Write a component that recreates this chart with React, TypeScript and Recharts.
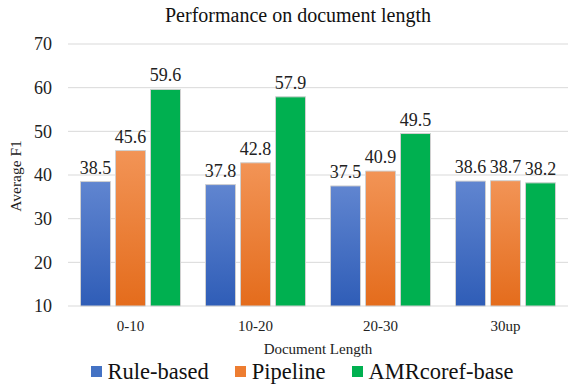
import React from "react";
import { BarChart, Bar, XAxis, YAxis, CartesianGrid, LabelList, Legend } from "recharts";

const categories = ["0-10", "10-20", "20-30", "30up"];
const ruleBased = [38.5, 37.8, 37.5, 38.6];
const pipeline = [45.6, 42.8, 40.9, 38.7];
const amrcoref = [59.6, 57.9, 49.5, 38.2];
const yTicks = [10, 20, 30, 40, 50, 60, 70];

const seriesNames = ["Rule-based", "Pipeline", "AMRcoref-base"];
const legendColors = ["#4472C4", "#ED7D31", "#00B050"];

const data = categories.map((c, i) => ({
  cat: c,
  rule: ruleBased[i],
  pipe: pipeline[i],
  amr: amrcoref[i],
}));

const FONT = "Liberation Serif";

const LegendContent = () => (
  <div
    style={{
      display: "flex",
      justifyContent: "center",
      alignItems: "center",
      fontFamily: FONT,
      fontSize: 22.5,
      color: "#111",
      height: 31,
      paddingLeft: 36,
    }}
  >
    {seriesNames.map((n, i) => (
      <div key={n} style={{ display: "flex", alignItems: "center", marginRight: i < 2 ? 26 : 0, fontFamily: FONT }}>
        <span style={{ display: "inline-block", width: 11, height: 11, background: legendColors[i], marginRight: 6 }} />
        <span style={{ fontFamily: FONT }}>{n}</span>
      </div>
    ))}
  </div>
);

const YLabel = () => (
  <text x={21} y={176} transform="rotate(-90 21 176)" textAnchor="middle" fontFamily={FONT} fontSize={15.5} fill="#222">
    Average F1
  </text>
);

const DataLabel = (props: any) => {
  const { x, y, width, value } = props;
  return (
    <text x={x + width / 2} y={y - 8} textAnchor="middle" fontFamily={FONT} fontSize={18} fill="#222">
      {value}
    </text>
  );
};

export default function App() {
  return (
    <div style={{ position: "absolute", left: 0, top: 0, width: 582, height: 387, background: "#fff", fontFamily: FONT }}>
      <div
        style={{
          position: "absolute",
          left: 0,
          top: 4,
          width: 596,
          textAlign: "center",
          fontFamily: FONT,
          fontSize: 20,
          color: "#111",
          zIndex: 2,
        }}
      >
        Performance on document length
      </div>
      <BarChart
        width={582}
        height={387}
        data={data}
        margin={{ top: 44, right: 14, left: 0, bottom: 0 }}
        barCategoryGap="10%"
        barGap={5}
        style={{ fontFamily: FONT }}
      >
        <defs>
          <linearGradient id="gBlue" x1="0" y1="0" x2="0" y2="1">
            <stop offset="0%" stopColor="#6085D0" />
            <stop offset="100%" stopColor="#2F5DB7" />
          </linearGradient>
          <linearGradient id="gOrange" x1="0" y1="0" x2="0" y2="1">
            <stop offset="0%" stopColor="#F29456" />
            <stop offset="100%" stopColor="#E46C1C" />
          </linearGradient>
        </defs>
        <CartesianGrid vertical={false} stroke="#D9D9D9" />
        <XAxis
          dataKey="cat"
          height={50}
          axisLine={false}
          tickLine={false}
          tickMargin={8}
          fontFamily={FONT}
          fontSize={15}
          tick={{ fill: "#222" }}
          label={{ value: "Document Length", position: "insideBottom", offset: 2, fontFamily: FONT, fontSize: 15, fill: "#222" }}
        />
        <YAxis
          width={68}
          domain={[10, 70]}
          ticks={yTicks}
          axisLine={false}
          tickLine={false}
          tickMargin={10}
          fontFamily={FONT}
          fontSize={18}
          tick={{ fill: "#222" }}
          label={<YLabel />}
        />
        <Legend verticalAlign="bottom" height={31} content={<LegendContent />} />
        <Bar dataKey="rule" name={seriesNames[0]} fill="url(#gBlue)" stroke="#D0D0D0" strokeWidth={1} isAnimationActive={false}>
          <LabelList dataKey="rule" content={<DataLabel />} />
        </Bar>
        <Bar dataKey="pipe" name={seriesNames[1]} fill="url(#gOrange)" stroke="#D0D0D0" strokeWidth={1} isAnimationActive={false}>
          <LabelList dataKey="pipe" content={<DataLabel />} />
        </Bar>
        <Bar dataKey="amr" name={seriesNames[2]} fill="#00B050" stroke="#D0D0D0" strokeWidth={1} isAnimationActive={false}>
          <LabelList dataKey="amr" content={<DataLabel />} />
        </Bar>
      </BarChart>
    </div>
  );
}
